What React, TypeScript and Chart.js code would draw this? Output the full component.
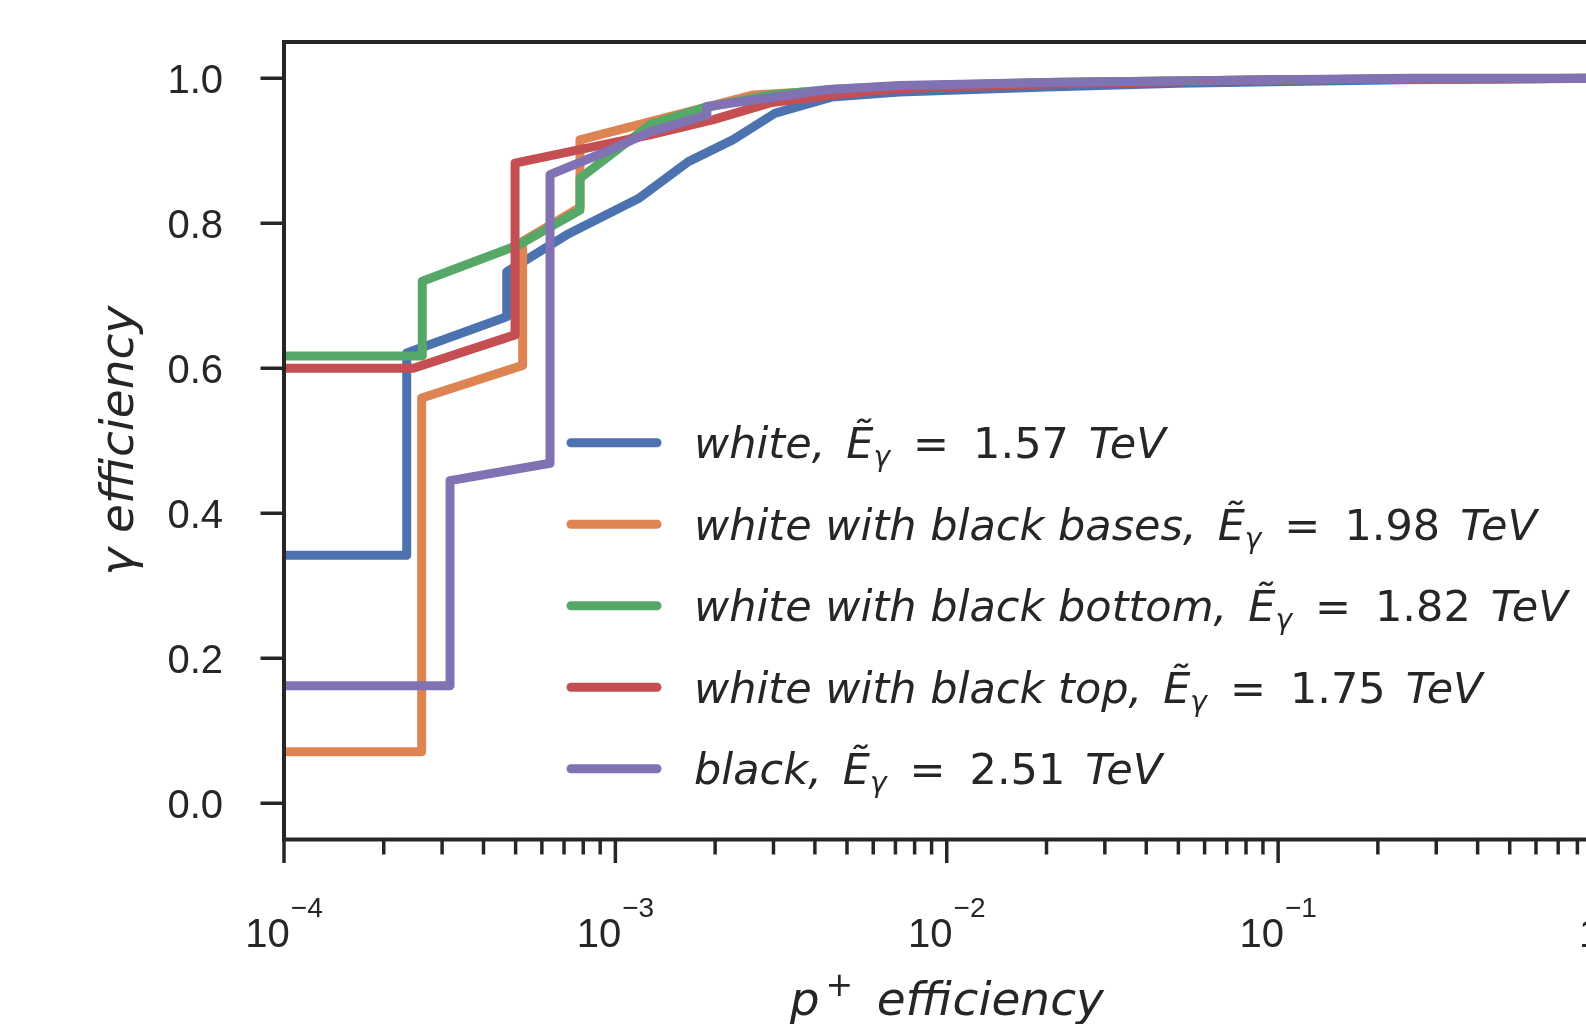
import React, { useEffect, useRef } from "react";
import { Chart, registerables } from "chart.js";

Chart.register(...registerables);

// ---------- data ----------
const seriesNames = [
  "white",
  "white with black bases",
  "white with black bottom",
  "white with black top",
  "black",
];
const medianEnergies = ["1.57", "1.98", "1.82", "1.75", "2.51"];
const seriesColors = ["#4C72B0", "#DD8452", "#55A868", "#C44E52", "#8172B3"];

const whiteX = [1e-4, 2.346e-4, 2.346e-4, 4.7e-4, 4.7e-4, 7.13e-4, 1.174e-3, 1.661e-3, 2.26e-3, 3.04e-3, 4.49e-3, 7.2e-3, 2e-2, 5e-2, 0.234, 1];
const whiteY = [0.342, 0.342, 0.621, 0.671, 0.733, 0.784, 0.834, 0.885, 0.915, 0.952, 0.974, 0.981, 0.988, 0.993, 0.998, 1.0];

const basesX = [1e-4, 2.603e-4, 2.603e-4, 5.25e-4, 5.25e-4, 7.82e-4, 7.82e-4, 2.61e-3, 4.5e-3, 7.2e-3, 2e-2, 0.1, 1];
const basesY = [0.071, 0.071, 0.559, 0.604, 0.775, 0.822, 0.915, 0.977, 0.983, 0.988, 0.994, 0.998, 1.0];

const bottomX = [1e-4, 2.614e-4, 2.614e-4, 5.1e-4, 7.82e-4, 7.82e-4, 1.272e-3, 1.843e-3, 2.94e-3, 4.5e-3, 7.2e-3, 2e-2, 0.1, 1];
const bottomY = [0.617, 0.617, 0.72, 0.77, 0.818, 0.862, 0.936, 0.959, 0.977, 0.985, 0.989, 0.994, 0.998, 1.0];

const topX = [1e-4, 2.456e-4, 4.98e-4, 4.98e-4, 1.272e-3, 1.976e-3, 2.93e-3, 4.5e-3, 7.2e-3, 2e-2, 0.1, 1];
const topY = [0.6, 0.6, 0.646, 0.883, 0.922, 0.943, 0.966, 0.977, 0.986, 0.992, 0.998, 1.0];

const blackX = [1e-4, 3.17e-4, 3.17e-4, 6.35e-4, 6.35e-4, 9.64e-4, 1.272e-3, 1.888e-3, 1.888e-3, 4.33e-3, 7.2e-3, 2e-2, 0.1, 0.25, 1];
const blackY = [0.162, 0.162, 0.445, 0.469, 0.867, 0.901, 0.926, 0.949, 0.961, 0.984, 0.99, 0.994, 0.998, 1.0, 1.0];

const seriesX = [whiteX, basesX, bottomX, topX, blackX];
const seriesY = [whiteY, basesY, bottomY, topY, blackY];

const yTickValues = [0, 0.2, 0.4, 0.6, 0.8, 1.0];
const yTickLabels = ["0.0", "0.2", "0.4", "0.6", "0.8", "1.0"];
const xTickExponents = [-4, -3, -2, -1, 0];
const xMinorMultipliers = [2, 3, 4, 5, 6, 7, 8, 9];

const xTitleBase = "p";
const xTitleSup = "+";
const xTitleRest = "efficiency";
const yTitle = "γ efficiency";

// ---------- drawing helpers ----------
const INK = "#262626";
const MATH = '"DejaVu Sans"';
const TICKFONT = '"Liberation Sans"';

const axesPlugin = {
  id: "mplAxes",
  afterDraw(chart: any) {
    const { ctx, chartArea: ca, scales } = chart;
    const xs = scales.x;
    const ys = scales.y;
    ctx.save();
    ctx.fillStyle = INK;
    ctx.strokeStyle = INK;

    // spines
    ctx.lineWidth = 4;
    ctx.lineJoin = "miter";
    ctx.strokeRect(ca.left, ca.top, ca.right - ca.left, ca.bottom - ca.top);

    // y ticks
    ctx.lineWidth = 3.5;
    ctx.lineCap = "butt";
    ctx.font = `40px ${TICKFONT}`;
    ctx.textAlign = "right";
    ctx.textBaseline = "alphabetic";
    yTickValues.forEach((v, i) => {
      const py = ys.getPixelForValue(v);
      ctx.beginPath();
      ctx.moveTo(ca.left - 23.5, py);
      ctx.lineTo(ca.left, py);
      ctx.stroke();
      ctx.fillText(yTickLabels[i], ca.left - 61, py + 14.5);
    });

    // x ticks (major + minor)
    xTickExponents.forEach((e, idx) => {
      const dec = Math.pow(10, e);
      const px = xs.getPixelForValue(dec);
      ctx.beginPath();
      ctx.moveTo(px, ca.bottom);
      ctx.lineTo(px, ca.bottom + 23.5);
      ctx.stroke();
      if (idx < xTickExponents.length - 1) {
        xMinorMultipliers.forEach((m) => {
          const mx = xs.getPixelForValue(m * dec);
          ctx.beginPath();
          ctx.moveTo(mx, ca.bottom);
          ctx.lineTo(mx, ca.bottom + 15);
          ctx.stroke();
        });
      }
      // label 10^e
      const base = "10";
      const sup = e < 0 ? "\u2212" + Math.abs(e) : String(e);
      ctx.textAlign = "left";
      ctx.font = `40px ${TICKFONT}`;
      const wb = ctx.measureText(base).width;
      ctx.font = `28px ${TICKFONT}`;
      const ws = ctx.measureText(sup).width;
      const total = wb + 1 + ws;
      const start = px - total / 2;
      ctx.font = `40px ${TICKFONT}`;
      ctx.fillText(base, start, ca.bottom + 107.5);
      ctx.font = `28px ${TICKFONT}`;
      ctx.fillText(sup, start + wb + 1, ca.bottom + 77.5);
    });

    // y title
    ctx.save();
    ctx.translate(132.5, (ca.top + ca.bottom) / 2);
    ctx.rotate(-Math.PI / 2);
    ctx.textAlign = "center";
    ctx.font = `italic 47px ${MATH}`;
    ctx.fillText(yTitle, 0, 0);
    ctx.restore();

    // x title
    ctx.textAlign = "left";
    ctx.font = `italic 47px ${MATH}`;
    const wp = ctx.measureText(xTitleBase).width;
    const wr = ctx.measureText(xTitleRest).width;
    ctx.font = `33px ${MATH}`;
    const wplus = ctx.measureText(xTitleSup).width;
    const g1 = 6;
    const g2 = 23.5;
    const tot = wp + g1 + wplus + g2 + wr;
    let pen = (ca.left + ca.right) / 2 - tot / 2;
    const xb = ca.bottom + 175.5;
    ctx.font = `italic 47px ${MATH}`;
    ctx.fillText(xTitleBase, pen, xb);
    pen += wp + g1;
    ctx.font = `33px ${MATH}`;
    ctx.fillText(xTitleSup, pen, xb - 19);
    pen += wplus + g2;
    ctx.font = `italic 47px ${MATH}`;
    ctx.fillText(xTitleRest, pen, xb);

    // legend
    const F = 43;
    seriesNames.forEach((name, i) => {
      const ly = ca.top + 400.7 + i * 81.5;
      ctx.strokeStyle = seriesColors[i];
      ctx.lineWidth = 9;
      ctx.lineCap = "round";
      ctx.beginPath();
      ctx.moveTo(ca.left + 287, ly);
      ctx.lineTo(ca.left + 373, ly);
      ctx.stroke();

      const tb = ly + 15.6;
      let p = ca.left + 410;
      const put = (t: string, font: string, dy = 0) => {
        ctx.font = font;
        ctx.fillText(t, p, tb + dy);
        p += ctx.measureText(t).width;
      };
      ctx.fillStyle = INK;
      put(name + ",", `italic ${F}px ${MATH}`);
      p += 21;
      put("\u1EBC", `italic ${F}px ${MATH}`);
      put("γ", `italic 28px ${MATH}`, 8);
      p += 23;
      put("=", `${F}px ${MATH}`);
      p += 24;
      put(medianEnergies[i], `${F}px ${MATH}`);
      p += 20;
      put("TeV", `italic ${F}px ${MATH}`);
    });

    ctx.restore();
  },
};

export default function App() {
  const ref = useRef<HTMLCanvasElement>(null);

  useEffect(() => {
    const canvas = ref.current;
    if (!canvas) return;
    const datasets = seriesNames.map((name, i) => ({
      label: name,
      data: seriesX[i].map((x, j) => ({ x, y: seriesY[i][j] })),
      borderColor: seriesColors[i],
      backgroundColor: seriesColors[i],
      borderWidth: 9,
      pointRadius: 0,
      pointHoverRadius: 0,
      tension: 0,
      fill: false,
      clip: 0,
      borderJoinStyle: "round" as const,
      borderCapStyle: "butt" as const,
      order: seriesNames.length - 1 - i,
    }));
    const chart = new Chart(canvas, {
      type: "line",
      data: { datasets },
      options: {
        responsive: false,
        animation: false,
        devicePixelRatio: 1,
        events: [],
        layout: { padding: { left: 284, right: 1700 - 1609.5, top: 42, bottom: 1024 - 839.5 } },
        plugins: { legend: { display: false }, tooltip: { enabled: false } },
        scales: {
          x: { type: "logarithmic", min: 1e-4, max: 1, display: false },
          y: { type: "linear", min: -0.05, max: 1.05, display: false },
        },
      },
      plugins: [axesPlugin],
    });
    return () => chart.destroy();
  }, []);

  return (
    <div
      style={{
        position: "fixed",
        left: 0,
        top: 0,
        width: 1586,
        height: 1024,
        overflow: "hidden",
        background: "#ffffff",
      }}
    >
      <canvas ref={ref} width={1700} height={1024} style={{ display: "block", width: 1700, height: 1024 }} />
    </div>
  );
}
